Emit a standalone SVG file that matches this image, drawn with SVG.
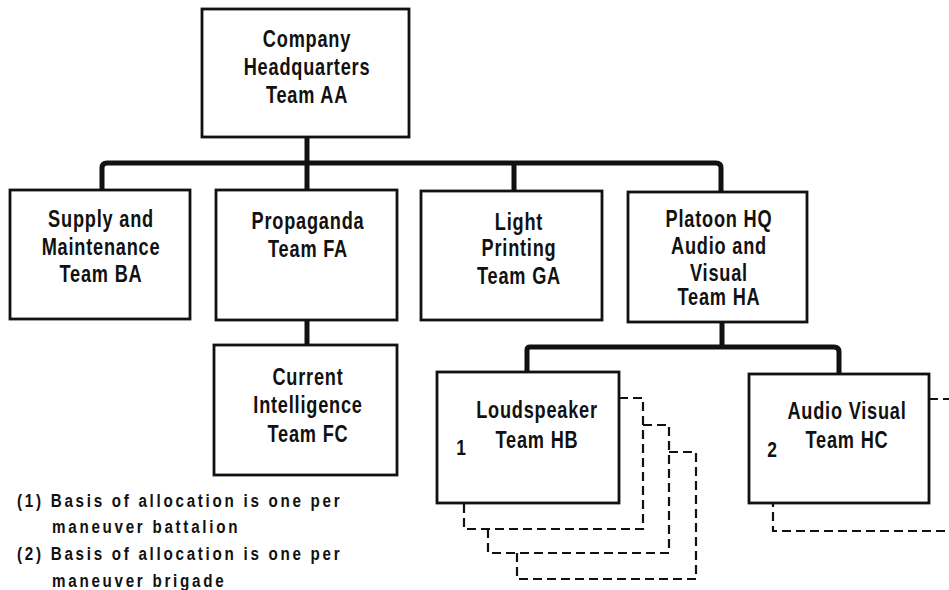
<svg xmlns="http://www.w3.org/2000/svg" width="949" height="590" viewBox="0 0 949 590">
<style>
.box{fill:#fff;stroke:#111;stroke-width:2.8}
.conn{fill:none;stroke:#111;stroke-width:5;stroke-linejoin:round}
.dash{fill:none;stroke:#111;stroke-width:2.2;stroke-dasharray:9 5}
.t{font-family:"Liberation Sans",Arial,sans-serif;font-weight:bold;font-size:23px;fill:#111;text-anchor:middle;letter-spacing:1px}
.n{font-family:"Liberation Sans",Arial,sans-serif;font-weight:bold;font-size:22px;fill:#111;text-anchor:middle}
.f{font-family:"Liberation Sans",Arial,sans-serif;font-weight:bold;font-size:19px;fill:#111;letter-spacing:3.4px}
</style>
<rect width="949" height="590" fill="#fff"/>
<g id="connectors">
<path class="conn" d="M307,137 V163"/>
<path class="conn" d="M102,190 V168 Q102,163 107,163 H716 Q721,163 721,168 V192"/>
<path class="conn" d="M307,163 V191"/>
<path class="conn" d="M514,163 V192"/>
<path class="conn" d="M307,320 V345"/>
<path class="conn" d="M722,322 V347"/>
<path class="conn" d="M527,372 V350 Q527,347 530,347 H834 Q839,347 839,352 V374"/>
</g>
<g id="shadows">
<path class="dash" d="M619,398 H643 V529 H464 V503"/>
<path class="dash" d="M643,425 H669 V553 H488 V529"/>
<path class="dash" d="M669,452 H696 V579 H517 V553"/>
<path class="dash" d="M929,399 H962 V531 H773 V503"/>
</g>
<g id="teamAA">
<rect class="box" x="202" y="9" width="207" height="128"/>
<text class="t" transform="translate(307 0) scale(0.79 1)"><tspan x="0" y="47">Company</tspan><tspan x="0" y="75">Headquarters</tspan><tspan x="0" y="103">Team AA</tspan></text>
</g>
<g id="teamBA">
<rect class="box" x="10" y="190" width="180" height="129"/>
<text class="t" transform="translate(101 0) scale(0.79 1)"><tspan x="0" y="227">Supply and</tspan><tspan x="0" y="255">Maintenance</tspan><tspan x="0" y="282">Team BA</tspan></text>
</g>
<g id="teamFA">
<rect class="box" x="216" y="190" width="181" height="130"/>
<text class="t" transform="translate(308 0) scale(0.79 1)"><tspan x="0" y="229">Propaganda</tspan><tspan x="0" y="257">Team FA</tspan></text>
</g>
<g id="teamGA">
<rect class="box" x="421" y="191" width="181" height="129"/>
<text class="t" transform="translate(519 0) scale(0.79 1)"><tspan x="0" y="230">Light</tspan><tspan x="0" y="256">Printing</tspan><tspan x="0" y="284">Team GA</tspan></text>
</g>
<g id="teamHA">
<rect class="box" x="628" y="192" width="179" height="130"/>
<text class="t" transform="translate(719 0) scale(0.79 1)"><tspan x="0" y="227">Platoon HQ</tspan><tspan x="0" y="254">Audio and</tspan><tspan x="0" y="281">Visual</tspan><tspan x="0" y="305">Team HA</tspan></text>
</g>
<g id="teamFC">
<rect class="box" x="214" y="345" width="183" height="130"/>
<text class="t" transform="translate(308 0) scale(0.79 1)"><tspan x="0" y="385">Current</tspan><tspan x="0" y="413">Intelligence</tspan><tspan x="0" y="442">Team FC</tspan></text>
</g>
<g id="teamHB">
<rect class="box" x="437" y="372" width="182" height="131"/>
<text class="t" transform="translate(537 0) scale(0.79 1)"><tspan x="0" y="418">Loudspeaker</tspan><tspan x="0" y="448">Team HB</tspan></text>
<text class="n" transform="translate(461 0) scale(0.79 1)" x="0" y="455">1</text>
</g>
<g id="teamHC">
<rect class="box" x="749" y="374" width="180" height="129"/>
<text class="t" transform="translate(847 0) scale(0.79 1)"><tspan x="0" y="419">Audio Visual</tspan><tspan x="0" y="448">Team HC</tspan></text>
<text class="n" transform="translate(772 0) scale(0.79 1)" x="0" y="457">2</text>
</g>
<g id="notes">
<text class="f" transform="scale(0.8 1)"><tspan x="21.3" y="507">(1) Basis of allocation is one per</tspan><tspan x="65" y="533">maneuver battalion</tspan><tspan x="21.3" y="560">(2) Basis of allocation is one per</tspan><tspan x="65" y="587">maneuver brigade</tspan></text>
</g>
</svg>
